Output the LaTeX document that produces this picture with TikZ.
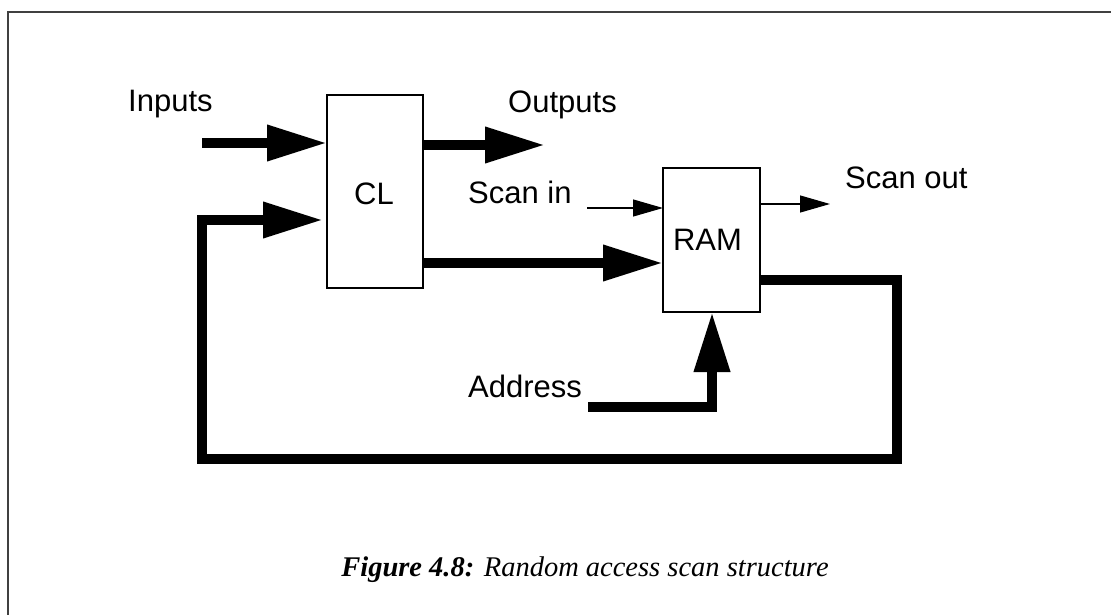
\documentclass[tikz,border=0pt]{standalone}
\usepackage{fontspec}
\setmainfont{Liberation Serif}
\newfontfamily\arialf{Liberation Sans}
\usetikzlibrary{arrows.meta}
\begin{document}
\begin{tikzpicture}[x=1pt,y=-1pt,
  blk/.style={draw,line width=2pt,inner sep=0pt,outer sep=0pt},
  lbl/.style={font=\arialf\fontsize{31}{35}\selectfont,inner sep=0pt,anchor=base west},
  bus/.style={line width=10pt,line join=miter,-{Triangle[length=60pt,width=34pt]}},
  wire/.style={line width=1.2pt,-{Triangle[length=30pt,width=17pt]}}]
\useasboundingbox (0,0) rectangle (1111,615);
\draw[line width=2pt,black!75] (7.5,615) -- (7.5,12) -- (1111,12);

\node[blk,minimum width=96pt,minimum height=192pt] (CL) at (375,191.5) {};
\node[lbl,anchor=base] at (374,204) {CL};
\node[blk,minimum width=97pt,minimum height=144pt] (RAM) at (711.5,240) {};
\node[lbl,anchor=base] at (707.5,250) {RAM};

\node[lbl] (tin) at (128,112) {Inputs};
\node[lbl] (tout) at (508,113) {Outputs};
\node[lbl] (tsin) at (468,203) {Scan in};
\node[lbl] (tsout) at (845,188) {Scan out};
\node[lbl] (tad) at (468,397) {Address};

\coordinate (inA) at (202,143);
\coordinate (outA) at (545,145);
\coordinate (sinA) at (587,208);
\coordinate (soutA) at (830,204);
\coordinate (adA) at (588,407);
\coordinate (fbR) at (897,280);
\coordinate (fbB) at (202,459);
\coordinate (fbT) at (202,220);

\draw[bus] (inA) -- (CL.west |- inA);
\draw[bus] (CL.east |- outA) -- (outA);
\draw[bus] (CL.east |- 0,263) -- (RAM.west |- 0,263);
\draw[wire] (sinA) -- (RAM.west |- sinA);
\draw[wire] (RAM.east |- soutA) -- (soutA);
\draw[bus] (adA) -- (712,407) -- (RAM.south -| 712,0);
\draw[bus] (RAM.east |- fbR) -- (fbR) -- (fbR |- fbB) -- (fbB) -- (fbT) -- ([xshift=-4pt]CL.west |- fbT);

\node[font=\fontsize{28.5}{32}\selectfont,anchor=base] (cap) at (585,576) {\textbf{\textit{Figure 4.8:}} \textit{Random access scan structure}};
\end{tikzpicture}
\end{document}
